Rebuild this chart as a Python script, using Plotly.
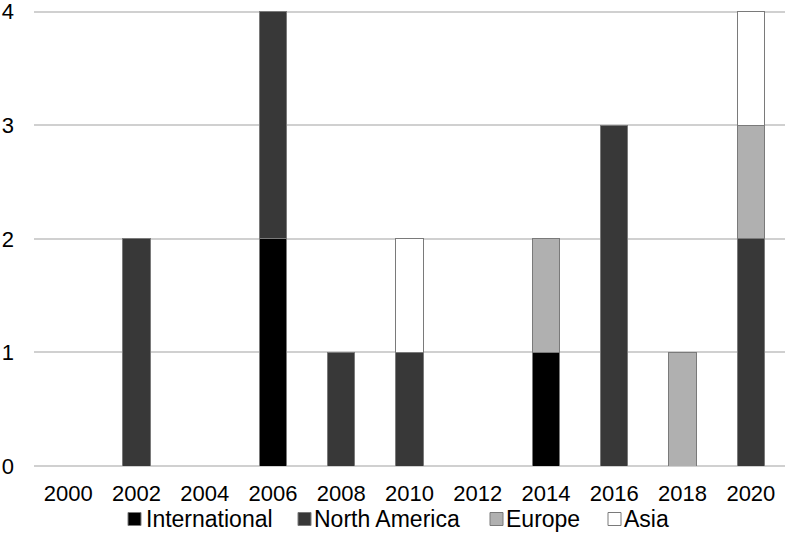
import plotly.graph_objects as go

years = ["2000", "2002", "2004", "2006", "2008", "2010", "2012", "2014", "2016", "2018", "2020"]
international = [0, 0, 0, 2, 0, 0, 0, 1, 0, 0, 0]
north_america = [0, 2, 0, 2, 1, 1, 0, 0, 3, 0, 2]
europe = [0, 0, 0, 0, 0, 0, 0, 1, 0, 1, 1]
asia = [0, 0, 0, 0, 0, 1, 0, 0, 0, 0, 1]
y_ticks = [0, 1, 2, 3, 4]

series_names = ["International", "North America", "Europe", "Asia"]
series_values = [international, north_america, europe, asia]
series_colors = ["#000000", "#383838", "#b0b0b0", "#ffffff"]

# layout in pixels
W, H = 786, 546
ML, MR, MT, MB = 34, 1, 6, 80
PW, PH = W - ML - MR, H - MT - MB
legend_square_left = [128, 298, 490, 608]   # px, legend layout
legend_text_left = [144, 312, 504, 622]
legend_y = 519
sq = 13

def px_x(p):
    return (p - ML) / PW

def px_y(p):
    return (H - MB - p) / PH

fig = go.Figure()
for name, vals, color in zip(series_names, series_values, series_colors):
    fig.add_trace(go.Bar(
        x=years, y=vals, name=name, showlegend=False,
        marker=dict(color=color, line=dict(color="#7a7a7a", width=1)),
    ))

font_main = "Liberation Sans, Arial, sans-serif"

# legend built from the series list
for name, color, sl, tl in zip(series_names, series_colors, legend_square_left, legend_text_left):
    fig.add_shape(type="rect", xref="paper", yref="paper",
                  x0=px_x(sl), x1=px_x(sl + sq),
                  y0=px_y(legend_y - sq / 2), y1=px_y(legend_y + sq / 2),
                  fillcolor=color, line=dict(color="#7a7a7a", width=1))
    fig.add_annotation(xref="paper", yref="paper", x=px_x(tl), y=px_y(legend_y),
                       text=name, showarrow=False, xanchor="left", yanchor="middle",
                       font=dict(family=font_main, size=23, color="#000000"))

fig.update_layout(
    barmode="stack",
    bargap=0.6,
    width=W, height=H,
    margin=dict(l=ML, r=MR, t=MT, b=MB),
    plot_bgcolor="white", paper_bgcolor="white",
    font=dict(family=font_main, size=22, color="#000000"),
    showlegend=False,
    xaxis=dict(type="category", showgrid=False, showline=False, ticks="",
               automargin=False, ticklabelstandoff=12, tickfont=dict(size=22)),
    yaxis=dict(range=[0, 4.05], tickmode="array", tickvals=y_ticks,
               showgrid=True, gridcolor="#d0d0d0", gridwidth=1.5,
               zeroline=True, zerolinecolor="#d0d0d0", zerolinewidth=1.5, automargin=False,
               showline=False, ticks="", ticklabelstandoff=19, ticklabeloverflow="allow",
               tickfont=dict(size=22)),
)

fig.write_html("out.html", config={"displayModeBar": False},
               post_script="document.body.style.margin='0';document.body.style.overflow='hidden';")
